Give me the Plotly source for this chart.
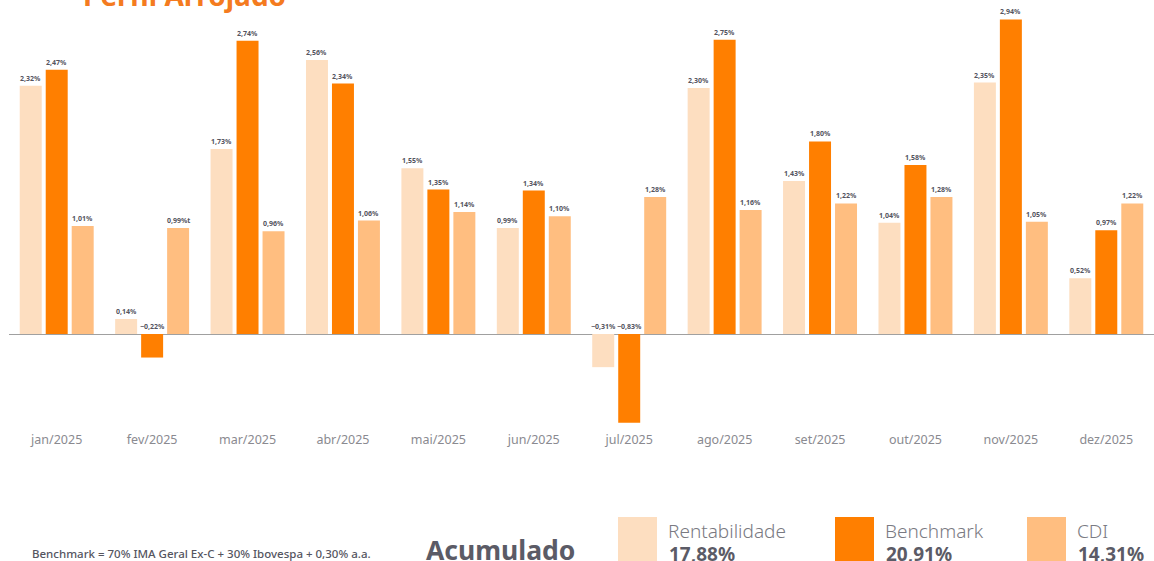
import plotly.graph_objects as go

months = ["jan/2025", "fev/2025", "mar/2025", "abr/2025", "mai/2025", "jun/2025",
          "jul/2025", "ago/2025", "set/2025", "out/2025", "nov/2025", "dez/2025"]
rentabilidade = [2.32, 0.14, 1.73, 2.56, 1.55, 0.99, -0.31, 2.30, 1.43, 1.04, 2.35, 0.52]
benchmark = [2.47, -0.22, 2.74, 2.34, 1.35, 1.34, -0.83, 2.75, 1.80, 1.58, 2.94, 0.97]
cdi = [1.01, 0.99, 0.96, 1.06, 1.14, 1.10, 1.28, 1.16, 1.22, 1.28, 1.05, 1.22]
series_names = ["Rentabilidade", "Benchmark", "CDI"]
acumulado = ["17,88%", "20,91%", "14,31%"]
colors = ["#FDDEC0", "#FF7F00", "#FFBE80"]
title = "Perfil Arrojado"
footnote = "Benchmark = 70% IMA Geral Ex-C + 30% Ibovespa + 0,30% a.a."

W, H = 1154, 561
ML, MR, MT, MB = 9, 0, 0, 131
PW, PH = W - ML - MR, H - MT - MB


def fmt(v):
    s = f"{v:.2f}".replace(".", ",") + "%"
    return s.replace("-", "\u2212")


def px(x):
    return (x - ML) / PW


def py(y):
    return (MT + PH - y) / PH


fig = go.Figure()
all_series = [rentabilidade, benchmark, cdi]
for name, vals, col in zip(series_names, all_series, colors):
    fig.add_trace(go.Bar(x=months, y=vals, name=name, marker_color=col,
                         marker_line_width=0, showlegend=False,
                         hoverinfo="x+y"))

BARGAP = 0.183
slot = (1 - BARGAP) / 3
annotations = []
for j, vals in enumerate(all_series):
    for i, v in enumerate(vals):
        txt = fmt(v)
        if j == 2 and i == 1:
            txt = txt + "t"
        annotations.append(dict(
            x=i + (j - 1) * slot, y=max(v, 0), xref="x", yref="y",
            text=txt, showarrow=False, yanchor="bottom", yshift=1,
            font=dict(family="Noto Sans", size=7, color="#55555F", weight="bold")))

# title (partially cut at top)
annotations.append(dict(x=px(184), y=py(16), xref="paper", yref="paper",
                        text="<b>" + title + "</b>", showarrow=False,
                        xanchor="center", yanchor="bottom",
                        font=dict(family="Noto Sans", size=28, color="#F47B20")))
# footnote
annotations.append(dict(x=px(30), y=py(553), xref="paper", yref="paper",
                        text=footnote, showarrow=False, xanchor="left", yanchor="middle",
                        font=dict(family="Noto Sans", size=11.5, color="#55555F", weight=500)))
annotations.append(dict(x=px(424), y=py(550), xref="paper", yref="paper",
                        text="<b>Acumulado</b>", showarrow=False, xanchor="left", yanchor="middle",
                        font=dict(family="Noto Sans", size=26.5, color="#5B5B66")))

shapes = []
sq_x = [618, 835, 1027]
for k in range(3):
    x0 = sq_x[k]
    shapes.append(dict(type="rect", xref="paper", yref="paper",
                       x0=px(x0), x1=px(x0 + 39), y0=py(517), y1=py(575),
                       fillcolor=colors[k], line_width=0, layer="above"))
    annotations.append(dict(x=px(x0 + 48), y=py(531), xref="paper", yref="paper",
                            text=series_names[k], showarrow=False, xanchor="left",
                            yanchor="middle",
                            font=dict(family="Noto Sans", size=19, color="#7A7A82", weight=300)))
    annotations.append(dict(x=px(x0 + 49), y=py(554), xref="paper", yref="paper",
                            text="<b>" + acumulado[k] + "</b>", showarrow=False,
                            xanchor="left", yanchor="middle",
                            font=dict(family="Noto Sans", size=19, color="#5B5B66")))

top = 334 / 107.0
bottom = -(PH - 334) / 107.0

fig.update_layout(
    width=W, height=H,
    margin=dict(l=ML, r=MR, t=MT, b=MB, pad=0),
    paper_bgcolor="white", plot_bgcolor="white",
    barmode="group", bargap=BARGAP, bargroupgap=0.154,
    annotations=annotations, shapes=shapes,
    xaxis=dict(showgrid=False, showline=False, ticks="", ticklen=0,
               tickfont=dict(family="Noto Sans", size=12.5, color="#8A8A90"),
               fixedrange=True),
    yaxis=dict(range=[bottom, top], showgrid=False, showticklabels=False,
               zeroline=True, zerolinecolor="#A0A0A0", zerolinewidth=1,
               fixedrange=True),
    font=dict(family="Noto Sans"),
)

fig.write_html("out.html", config={"displayModeBar": False},
               post_script="document.body.style.margin='0';document.body.style.overflow='hidden';")
